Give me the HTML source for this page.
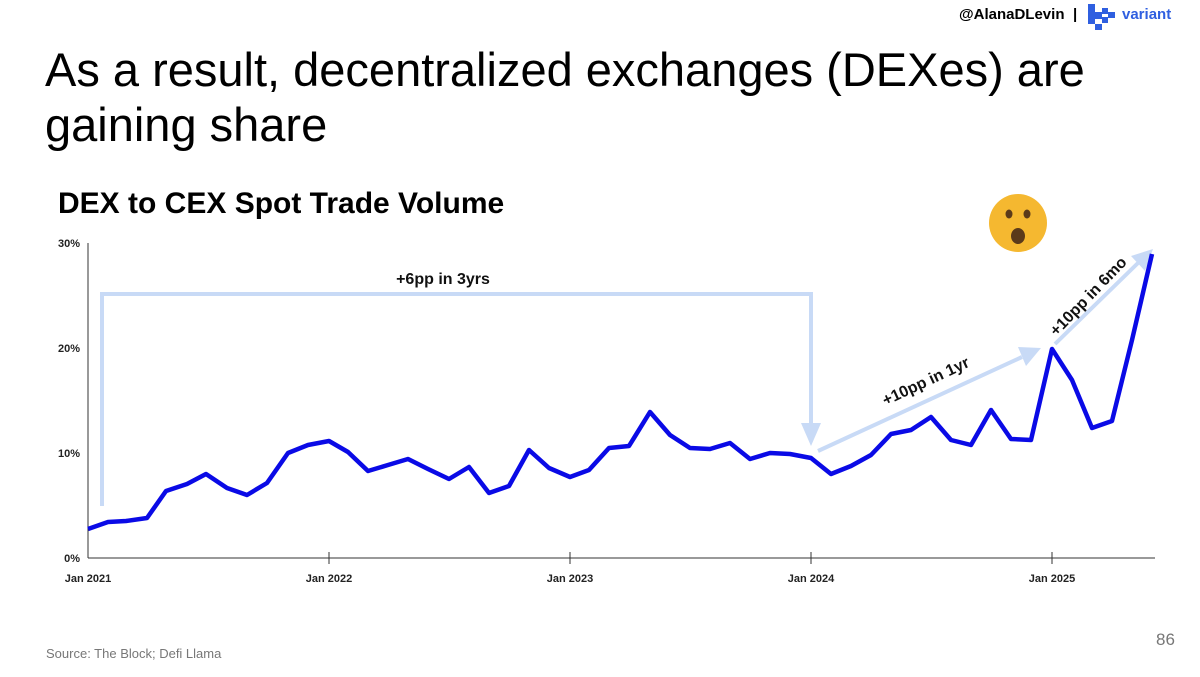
<!DOCTYPE html>
<html><head><meta charset="utf-8"><style>
body{margin:0;width:1200px;height:677px;background:#fff;font-family:"Liberation Sans",sans-serif;overflow:hidden;position:relative}
.t{position:absolute;white-space:nowrap}
</style></head><body>
<div class="t" style="left:45px;top:42px;font-size:47px;line-height:55px;color:#000">As a result, decentralized exchanges (DEXes) are<br>gaining share</div>
<div class="t" style="left:959px;top:6px;font-size:15px;font-weight:bold">@AlanaDLevin</div>
<div class="t" style="left:1073px;top:6px;font-size:15px;font-weight:bold">|</div>
<svg style="position:absolute;left:1088px;top:4px" width="30" height="26"><g fill="#2f5fe0"><rect x="0" y="0" width="7" height="20"/><rect x="7" y="8" width="7" height="7"/><rect x="14" y="13" width="6" height="6"/><rect x="14" y="4" width="6" height="6"/><rect x="20" y="8" width="7" height="6"/><rect x="7" y="20" width="7" height="6"/></g></svg>
<div class="t" style="left:1122px;top:6px;font-size:15px;font-weight:bold;color:#2f5fe0">variant</div>
<div class="t" style="left:58px;top:187px;font-size:30px;font-weight:bold">DEX to CEX Spot Trade Volume</div>
<div class="t" style="left:46px;top:646px;font-size:13px;color:#777">Source: The Block; Defi Llama</div>
<div class="t" style="left:1156px;top:630px;font-size:17px;color:#777">86</div>
<svg style="position:absolute;left:0;top:0" width="1200" height="677">
<g font-size="11" font-weight="bold" fill="#222" font-family="Liberation Sans,sans-serif">
<text x="80" y="247" text-anchor="end">30%</text><text x="80" y="352" text-anchor="end">20%</text><text x="80" y="457" text-anchor="end">10%</text><text x="80" y="562" text-anchor="end">0%</text>
<text x="88" y="582" text-anchor="middle">Jan 2021</text><text x="329" y="582" text-anchor="middle">Jan 2022</text><text x="570" y="582" text-anchor="middle">Jan 2023</text><text x="811" y="582" text-anchor="middle">Jan 2024</text><text x="1052" y="582" text-anchor="middle">Jan 2025</text>
</g>
<g stroke="#333" stroke-width="1"><line x1="88" y1="243" x2="88" y2="558"/><line x1="88" y1="558" x2="1155" y2="558"/>
<line x1="329" y1="552" x2="329" y2="564"/><line x1="570" y1="552" x2="570" y2="564"/><line x1="811" y1="552" x2="811" y2="564"/><line x1="1052" y1="552" x2="1052" y2="564"/></g>
<g stroke="#c8daf6" stroke-width="4" fill="none"><polyline points="102,506 102,294 811,294 811,425"/><line x1="818" y1="451" x2="1022" y2="357"/><line x1="1055" y1="344" x2="1138" y2="263"/></g>
<g fill="#c8daf6"><polygon points="801,423 821,423 811,446"/><polygon points="1018,347 1041,348 1026,366"/><polygon points="1131,256 1153,249 1145,271"/></g>
<polyline fill="none" stroke="#0a0ae6" stroke-width="4.5" stroke-linejoin="round" points="88,529 108,522 126,521 147,518 166,491 187,484 206,474 227,488 247,495 267,483 288,453 308,445 329,441 348,452 368,471 388,465 408,459 428,469 449,479 469,467 489,493 509,486 529,450 549,468 570,477 589,470 609,448 629,446 650,412 670,435 690,448 710,449 730,443 750,459 770,453 790,454 811,458 831,474 851,466 871,455 891,434 911,430 931,417 951,440 971,445 991,410 1011,439 1031,440 1052,349 1072,380 1092,428 1112,421 1132,340 1152,254"/>
<g font-size="16" font-weight="bold" fill="#111" font-family="Liberation Sans,sans-serif">
<text x="443" y="284" text-anchor="middle">+6pp in 3yrs</text>
<text transform="translate(928,386) rotate(-25)" text-anchor="middle">+10pp in 1yr</text>
<text transform="translate(1092,300) rotate(-46)" text-anchor="middle">+10pp in 6mo</text>
</g>
<g><circle cx="1018" cy="223" r="29" fill="#f5b830"/><ellipse cx="1009" cy="214" rx="3.5" ry="4.5" fill="#5b3a1a"/><ellipse cx="1027" cy="214" rx="3.5" ry="4.5" fill="#5b3a1a"/><ellipse cx="1018" cy="236" rx="7" ry="8" fill="#5b3a1a"/></g>
</svg>
</body></html>
